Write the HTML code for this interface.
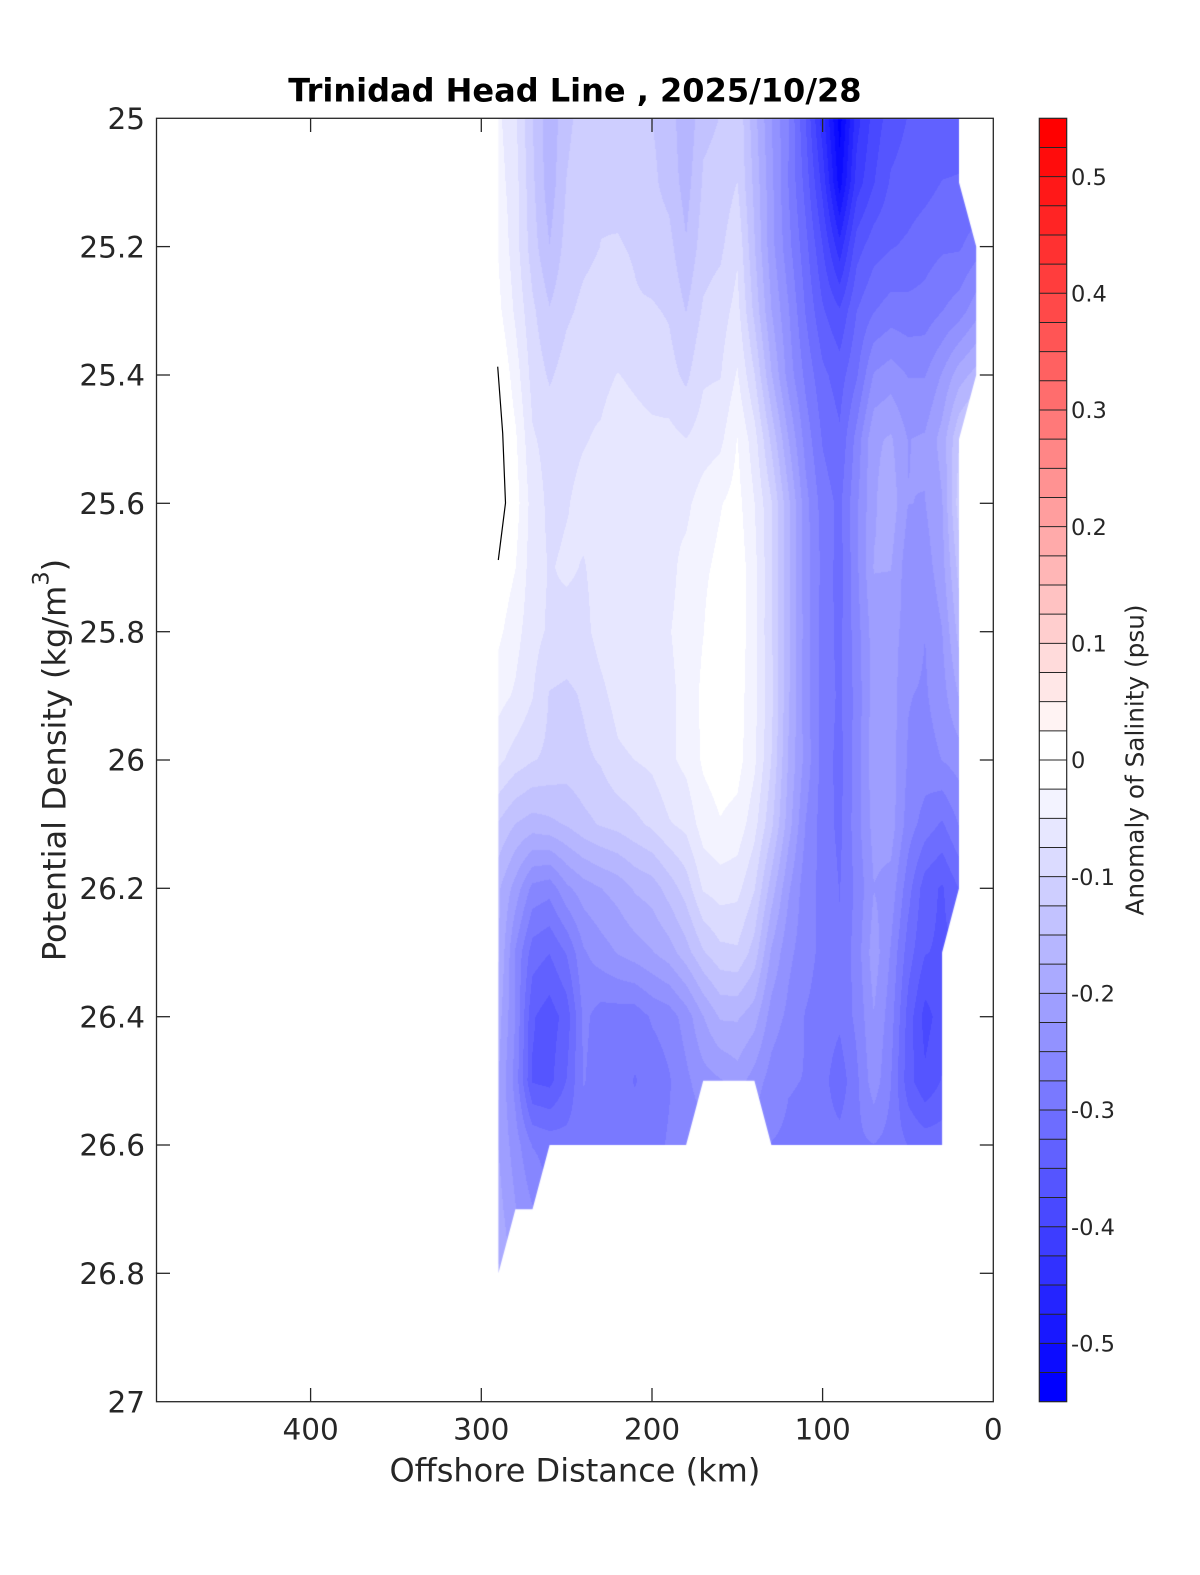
<!DOCTYPE html>
<html>
<head>
<meta charset="utf-8">
<style>
html,body{margin:0;padding:0;background:#fff;}
#wrap{position:relative;width:1200px;height:1575px;overflow:hidden;background:#fff;}
#c{position:absolute;left:0;top:0;}
#s{position:absolute;left:0;top:0;}
text{font-family:"DejaVu Sans","Liberation Sans",sans-serif;}
</style>
</head>
<body>
<div id="wrap">
<canvas id="c" width="1200" height="1575"></canvas>
<svg id="s" width="1200" height="1575" viewBox="0 0 1200 1575" xmlns="http://www.w3.org/2000/svg">
  <polyline points="497.7,366.7 502.7,433.3 505.5,503 498.3,560" fill="none" stroke="#000" stroke-width="1.2"/>

  <rect x="156.5" y="118.3" width="836.8" height="1283.4" fill="none" stroke="#262626" stroke-width="1.3"/>
  <g stroke="#262626" stroke-width="1.3">
    <line x1="310.6" y1="1401.7" x2="310.6" y2="1388"/><line x1="310.6" y1="118.3" x2="310.6" y2="132"/>
    <line x1="481.3" y1="1401.7" x2="481.3" y2="1388"/><line x1="481.3" y1="118.3" x2="481.3" y2="132"/>
    <line x1="652" y1="1401.7" x2="652" y2="1388"/><line x1="652" y1="118.3" x2="652" y2="132"/>
    <line x1="822.6" y1="1401.7" x2="822.6" y2="1388"/><line x1="822.6" y1="118.3" x2="822.6" y2="132"/>
    <line x1="156.5" y1="246.6" x2="170" y2="246.6"/><line x1="993.3" y1="246.6" x2="979.8" y2="246.6"/>
    <line x1="156.5" y1="375" x2="170" y2="375"/><line x1="993.3" y1="375" x2="979.8" y2="375"/>
    <line x1="156.5" y1="503.3" x2="170" y2="503.3"/><line x1="993.3" y1="503.3" x2="979.8" y2="503.3"/>
    <line x1="156.5" y1="631.7" x2="170" y2="631.7"/><line x1="993.3" y1="631.7" x2="979.8" y2="631.7"/>
    <line x1="156.5" y1="760" x2="170" y2="760"/><line x1="993.3" y1="760" x2="979.8" y2="760"/>
    <line x1="156.5" y1="888.3" x2="170" y2="888.3"/><line x1="993.3" y1="888.3" x2="979.8" y2="888.3"/>
    <line x1="156.5" y1="1016.7" x2="170" y2="1016.7"/><line x1="993.3" y1="1016.7" x2="979.8" y2="1016.7"/>
    <line x1="156.5" y1="1145" x2="170" y2="1145"/><line x1="993.3" y1="1145" x2="979.8" y2="1145"/>
    <line x1="156.5" y1="1273.3" x2="170" y2="1273.3"/><line x1="993.3" y1="1273.3" x2="979.8" y2="1273.3"/>
  </g>

  <g fill="#262626" font-size="29.5" text-anchor="end">
    <text x="145" y="129">25</text>
    <text x="145" y="257.3">25.2</text>
    <text x="145" y="385.7">25.4</text>
    <text x="145" y="514">25.6</text>
    <text x="145" y="642.4">25.8</text>
    <text x="145" y="770.7">26</text>
    <text x="145" y="899">26.2</text>
    <text x="145" y="1027.4">26.4</text>
    <text x="145" y="1155.7">26.6</text>
    <text x="145" y="1284">26.8</text>
    <text x="145" y="1412.4">27</text>
  </g>
  <g fill="#262626" font-size="29.5" text-anchor="middle">
    <text x="310.6" y="1439.5">400</text>
    <text x="481.3" y="1439.5">300</text>
    <text x="652" y="1439.5">200</text>
    <text x="822.6" y="1439.5">100</text>
    <text x="993.3" y="1439.5">0</text>
  </g>

  <text x="574.9" y="1481.5" font-size="32" fill="#262626" text-anchor="middle">Offshore Distance (km)</text>
  <text transform="translate(65.7,760) rotate(-90)" font-size="32" fill="#262626" text-anchor="middle">Potential Density (kg/m<tspan font-size="22.5" dy="-17">3</tspan><tspan dy="17">)</tspan></text>
  <text x="574.9" y="101.5" font-size="32" font-weight="bold" fill="#000" text-anchor="middle">Trinidad Head Line , 2025/10/28</text>

  <g shape-rendering="crispEdges">
    <rect x="1039.3" y="118.3" width="27.4" height="29.6" fill="rgb(255,0,0)"/>
    <rect x="1039.3" y="147.47" width="27.4" height="29.6" fill="rgb(255,12,12)"/>
    <rect x="1039.3" y="176.64" width="27.4" height="29.6" fill="rgb(255,24,24)"/>
    <rect x="1039.3" y="205.80" width="27.4" height="29.6" fill="rgb(255,36,36)"/>
    <rect x="1039.3" y="234.97" width="27.4" height="29.6" fill="rgb(255,49,49)"/>
    <rect x="1039.3" y="264.14" width="27.4" height="29.6" fill="rgb(255,61,61)"/>
    <rect x="1039.3" y="293.31" width="27.4" height="29.6" fill="rgb(255,73,73)"/>
    <rect x="1039.3" y="322.48" width="27.4" height="29.6" fill="rgb(255,85,85)"/>
    <rect x="1039.3" y="351.64" width="27.4" height="29.6" fill="rgb(255,97,97)"/>
    <rect x="1039.3" y="380.81" width="27.4" height="29.6" fill="rgb(255,109,109)"/>
    <rect x="1039.3" y="409.98" width="27.4" height="29.6" fill="rgb(255,121,121)"/>
    <rect x="1039.3" y="439.15" width="27.4" height="29.6" fill="rgb(255,134,134)"/>
    <rect x="1039.3" y="468.32" width="27.4" height="29.6" fill="rgb(255,146,146)"/>
    <rect x="1039.3" y="497.48" width="27.4" height="29.6" fill="rgb(255,158,158)"/>
    <rect x="1039.3" y="526.65" width="27.4" height="29.6" fill="rgb(255,170,170)"/>
    <rect x="1039.3" y="555.82" width="27.4" height="29.6" fill="rgb(255,182,182)"/>
    <rect x="1039.3" y="584.99" width="27.4" height="29.6" fill="rgb(255,194,194)"/>
    <rect x="1039.3" y="614.16" width="27.4" height="29.6" fill="rgb(255,206,206)"/>
    <rect x="1039.3" y="643.32" width="27.4" height="29.6" fill="rgb(255,219,219)"/>
    <rect x="1039.3" y="672.49" width="27.4" height="29.6" fill="rgb(255,231,231)"/>
    <rect x="1039.3" y="701.66" width="27.4" height="29.6" fill="rgb(255,243,243)"/>
    <rect x="1039.3" y="730.83" width="27.4" height="29.6" fill="rgb(255,255,255)"/>
    <rect x="1039.3" y="760.00" width="27.4" height="29.6" fill="rgb(255,255,255)"/>
    <rect x="1039.3" y="789.16" width="27.4" height="29.6" fill="rgb(243,243,255)"/>
    <rect x="1039.3" y="818.33" width="27.4" height="29.6" fill="rgb(231,231,255)"/>
    <rect x="1039.3" y="847.50" width="27.4" height="29.6" fill="rgb(219,219,255)"/>
    <rect x="1039.3" y="876.67" width="27.4" height="29.6" fill="rgb(206,206,255)"/>
    <rect x="1039.3" y="905.84" width="27.4" height="29.6" fill="rgb(194,194,255)"/>
    <rect x="1039.3" y="935.00" width="27.4" height="29.6" fill="rgb(182,182,255)"/>
    <rect x="1039.3" y="964.17" width="27.4" height="29.6" fill="rgb(170,170,255)"/>
    <rect x="1039.3" y="993.34" width="27.4" height="29.6" fill="rgb(158,158,255)"/>
    <rect x="1039.3" y="1022.51" width="27.4" height="29.6" fill="rgb(146,146,255)"/>
    <rect x="1039.3" y="1051.68" width="27.4" height="29.6" fill="rgb(134,134,255)"/>
    <rect x="1039.3" y="1080.84" width="27.4" height="29.6" fill="rgb(121,121,255)"/>
    <rect x="1039.3" y="1110.01" width="27.4" height="29.6" fill="rgb(109,109,255)"/>
    <rect x="1039.3" y="1139.18" width="27.4" height="29.6" fill="rgb(97,97,255)"/>
    <rect x="1039.3" y="1168.35" width="27.4" height="29.6" fill="rgb(85,85,255)"/>
    <rect x="1039.3" y="1197.52" width="27.4" height="29.6" fill="rgb(73,73,255)"/>
    <rect x="1039.3" y="1226.68" width="27.4" height="29.6" fill="rgb(61,61,255)"/>
    <rect x="1039.3" y="1255.85" width="27.4" height="29.6" fill="rgb(49,49,255)"/>
    <rect x="1039.3" y="1285.02" width="27.4" height="29.6" fill="rgb(36,36,255)"/>
    <rect x="1039.3" y="1314.19" width="27.4" height="29.6" fill="rgb(24,24,255)"/>
    <rect x="1039.3" y="1343.36" width="27.4" height="29.6" fill="rgb(12,12,255)"/>
    <rect x="1039.3" y="1372.52" width="27.4" height="29.17" fill="rgb(0,0,255)"/>
  </g>
  <g id="cbl" stroke="#262626" stroke-width="1"></g>
  <rect x="1039.3" y="118.3" width="27.4" height="1283.4" fill="none" stroke="#262626" stroke-width="1.2"/>

  <g fill="#262626" font-size="22.5" text-anchor="start">
    <text x="1071" y="184.9">0.5</text>
    <text x="1071" y="301.5">0.4</text>
    <text x="1071" y="418.2">0.3</text>
    <text x="1071" y="534.9">0.2</text>
    <text x="1071" y="651.5">0.1</text>
    <text x="1071" y="768.2">0</text>
    <text x="1071" y="884.9">-0.1</text>
    <text x="1071" y="1001.5">-0.2</text>
    <text x="1071" y="1118.2">-0.3</text>
    <text x="1071" y="1234.9">-0.4</text>
    <text x="1071" y="1351.5">-0.5</text>
  </g>
  <text transform="translate(1143.5,760) rotate(-90)" font-size="24.75" fill="#262626" text-anchor="middle">Anomaly of Salinity (psu)</text>
</svg>
</div>
<script>
(function(){
  var g=document.getElementById('cbl');
  var ns='http://www.w3.org/2000/svg';
  for(var j=1;j<44;j++){
    var y=118.3+j*1283.4/44;
    var l=document.createElementNS(ns,'line');
    l.setAttribute('x1','1039.3');l.setAttribute('x2','1066.7');
    l.setAttribute('y1',y.toFixed(2));l.setAttribute('y2',y.toFixed(2));
    g.appendChild(l);
  }

  var F=11;
  var G=[
[1.7,2.8,5.0,6.8,5.2,4.5,4.2,4.3,4.6,5.0, 5.5,6.8,5.2,5.0,4.2,6.5,9.0,11.0,14.0,17.5, 21.5,17.5,15.5,14.5,14.0,13.8,13.5,13.5,13.5],
[1.5,2.7,4.8,6.5,5.0,4.3,4.1,4.1,4.4,4.8, 5.3,6.4,5.0,4.7,3.9,6.3,8.8,11.0,13.3,16.5, 20.5,16.5,15.0,14.0,13.5,13.3,13.0,13.0,13.0],
[1.2,2.5,4.5,6.0,4.7,4.1,4.0,4.0,4.1,4.4, 4.7,6.0,4.4,4.2,3.2,6.0,8.5,10.7,12.7,15.0, 17.5,14.5,13.5,13.0,12.8,12.5,12.2,12.0,11.5],
[0.7,2.1,3.9,4.9,4.1,3.8,3.7,3.6,3.8,4.0, 4.1,5.0,3.8,3.6,2.6,5.2,8.0,10.0,12.0,13.8, 15.0,13.0,12.0,11.5,11.8,11.5,11.0,10.5,9.5],
[-0.05,1.6,3.3,4.1,3.6,3.3,3.1,3.0,3.2,3.4, 3.5,4.3,3.2,3.0,1.85,4.0,7.0,9.3,11.3,12.8, 13.5,12.0,10.0,9.5,10.0,10.0,9.0,7.5,6.5],
[-0.4,0.8,2.8,3.5,3.2,3.0,2.9,2.6,2.6,2.7, 2.8,3.0,2.5,2.2,1.1,2.5,5.2,8.0,10.5,12.0, 12.8,10.7,8.2,7.8,9.0,9.0,7.5,5.0,4.0],
[-0.4,0.6,2.5,3.2,3.0,2.8,2.6,2.4,2.35,2.3, 2.2,2.1,1.6,1.1,0.6,1.9,4.0,6.8,9.5,11.5, 12.3,10.2,8.0,7.5,9.0,9.0,8.0,4.5,4.5],
[0.3,1.0,2.5,3.0,3.0,3.0,2.6,2.4,2.3,2.3, 2.2,1.8,1.2,0.7,0.3,1.8,3.8,6.8,9.5,11.4, 12.3,10.2,8.0,8.0,9.5,9.5,8.5,5.5,5.5],
[0.8,1.5,2.7,3.2,3.3,3.2,2.7,2.4,2.3,2.2, 2.1,1.7,0.9,0.4,0.3,1.7,3.8,6.8,9.5,11.4, 12.3,10.5,8.5,8.5,9.5,10.0,9.0,6.5,6.5],
[1.6,2.2,3.0,4.0,4.2,4.0,3.2,2.6,2.4,2.3, 2.1,1.7,0.8,0.3,0.4,1.7,3.8,6.8,9.5,11.4, 12.3,10.5,8.5,8.5,10.0,10.0,9.5,8.0,8.0],
[2.8,3.5,3.8,4.3,4.5,4.2,3.8,3.3,3.0,2.7, 2.2,1.8,0.85,0.4,0.7,1.8,4.0,7.0,9.5,11.4, 12.3,10.5,8.5,8.5,10.0,10.5,10.0,9.5,9.5],
[5.0,6.0,6.5,6.3,5.8,5.3,5.0,4.6,4.2,3.8, 3.2,2.6,1.5,1.1,1.4,2.5,4.8,7.6,10.0,11.4, 12.3,10.5,8.5,8.5,10.5,11.5,12.0,11.0,11.0],
[6.8,8.5,10.3,10.5,9.3,8.5,8.0,7.5,7.0,6.5, 5.5,4.5,3.0,2.5,2.6,4.0,6.5,8.8,10.5,11.4, 12.0,10.7,9.0,9.5,11.5,13.5,14.2,13.0,13.0],
[7.0,10.0,12.5,13.0,12.0,10.0,9.5,9.0,8.5,8.0, 7.5,6.5,5.0,4.3,4.2,5.5,8.0,9.8,10.6,11.3, 11.8,10.6,8.5,10.0,12.5,14.0,14.2,14.0,14.0],
[7.5,10.0,14.0,14.5,13.5,10.8,11.5,11.5,11.5,11.0, 10.5,9.5,8.0,7.0,6.8,7.5,9.5,10.3,11.0,11.4, 11.9,10.7,9.0,10.5,13.5,15.3,14.5,14.5,14.5],
[8.0,10.5,14.0,14.3,13.0,11.0,11.5,11.7,12.1,11.7, 11.0,10.3,9.5,9.0,8.5,9.5,10.5,10.8,11.1,11.7, 12.6,11.1,9.5,11.0,13.5,14.8,14.0,14.0,14.0],
[8.0,9.5,11.0,11.5,11.5,11.5,11.8,11.8,11.5,11.3, 11.0,10.5,10.5,10.5,10.5,10.5,11.0,11.2,11.3,11.5, 11.6,11.3,11.0,11.3,12.0,12.5,12.3,12.3,12.3],
[7.5,9.0,10.0,F,F,F,F,F,F,F, F,F,F,F,F,F,F,F,F,F, F,F,F,F,F,F,F,F,F],
[7.0,8.5,9.5,F,F,F,F,F,F,F, F,F,F,F,F,F,F,F,F,F, F,F,F,F,F,F,F,F,F]
  ];
  for(var a=0;a<G.length;a++){
    for(var b=0;b<G[a].length;b++){
      G[a][b]+=0.09*Math.sin(a*2.31+b*1.73+0.4)+0.05*Math.cos(a*1.17-b*2.9);
    }
  }

  var c=document.getElementById('c');
  var ctx=c.getContext('2d');
  var x0=496,x1=980,y0=116,y1=1276;
  var W=x1-x0,H=y1-y0;
  var off=document.createElement('canvas');off.width=W;off.height=H;
  var octx=off.getContext('2d');
  var img=octx.createImageData(W,H);
  var dat=img.data;
  for(var py=0;py<H;py++){
    var d=25+(y0+py+0.5-118.3)/641.7;
    var fj=(d-25)/0.1; if(fj<0)fj=0; if(fj>18)fj=18;
    var j=Math.floor(fj); if(j>17)j=17; var tj=fj-j;
    var rA=G[j],rB=G[j+1];
    for(var px=0;px<W;px++){
      var km=(993.3-(x0+px+0.5))/1.7066;
      var fi=(290-km)/10; if(fi<0)fi=0; if(fi>28)fi=28;
      var i=Math.floor(fi); if(i>27)i=27; var ti=fi-i;
      var v=rA[i]*(1-ti)*(1-tj)+rA[i+1]*ti*(1-tj)+rB[i]*(1-ti)*tj+rB[i+1]*ti*tj;
      var bb=Math.floor(v); if(bb<0)bb=0; if(bb>21)bb=21;
      var cc=Math.round(255*(1-bb/21));
      var k=(py*W+px)*4;
      dat[k]=cc;dat[k+1]=cc;dat[k+2]=255;dat[k+3]=255;
    }
  }
  octx.putImageData(img,0,0);
  var P=[[498.4,118.3],[959,118.3],[959,182.5],[976.2,246.6],[976.2,375],[959,439.2],[959,888.3],[942.1,952.5],[942.1,1145],[771.4,1145],[754.4,1080.8],[703.2,1080.8],[686.1,1145],[549.6,1145],[532.5,1209.2],[515.4,1209.2],[498.4,1273.3]];
  ctx.save();
  ctx.beginPath();
  ctx.moveTo(P[0][0],P[0][1]);
  for(var q=1;q<P.length;q++)ctx.lineTo(P[q][0],P[q][1]);
  ctx.closePath();
  ctx.clip();
  ctx.drawImage(off,x0,y0);
  ctx.restore();
})();
</script>
</body>
</html>
